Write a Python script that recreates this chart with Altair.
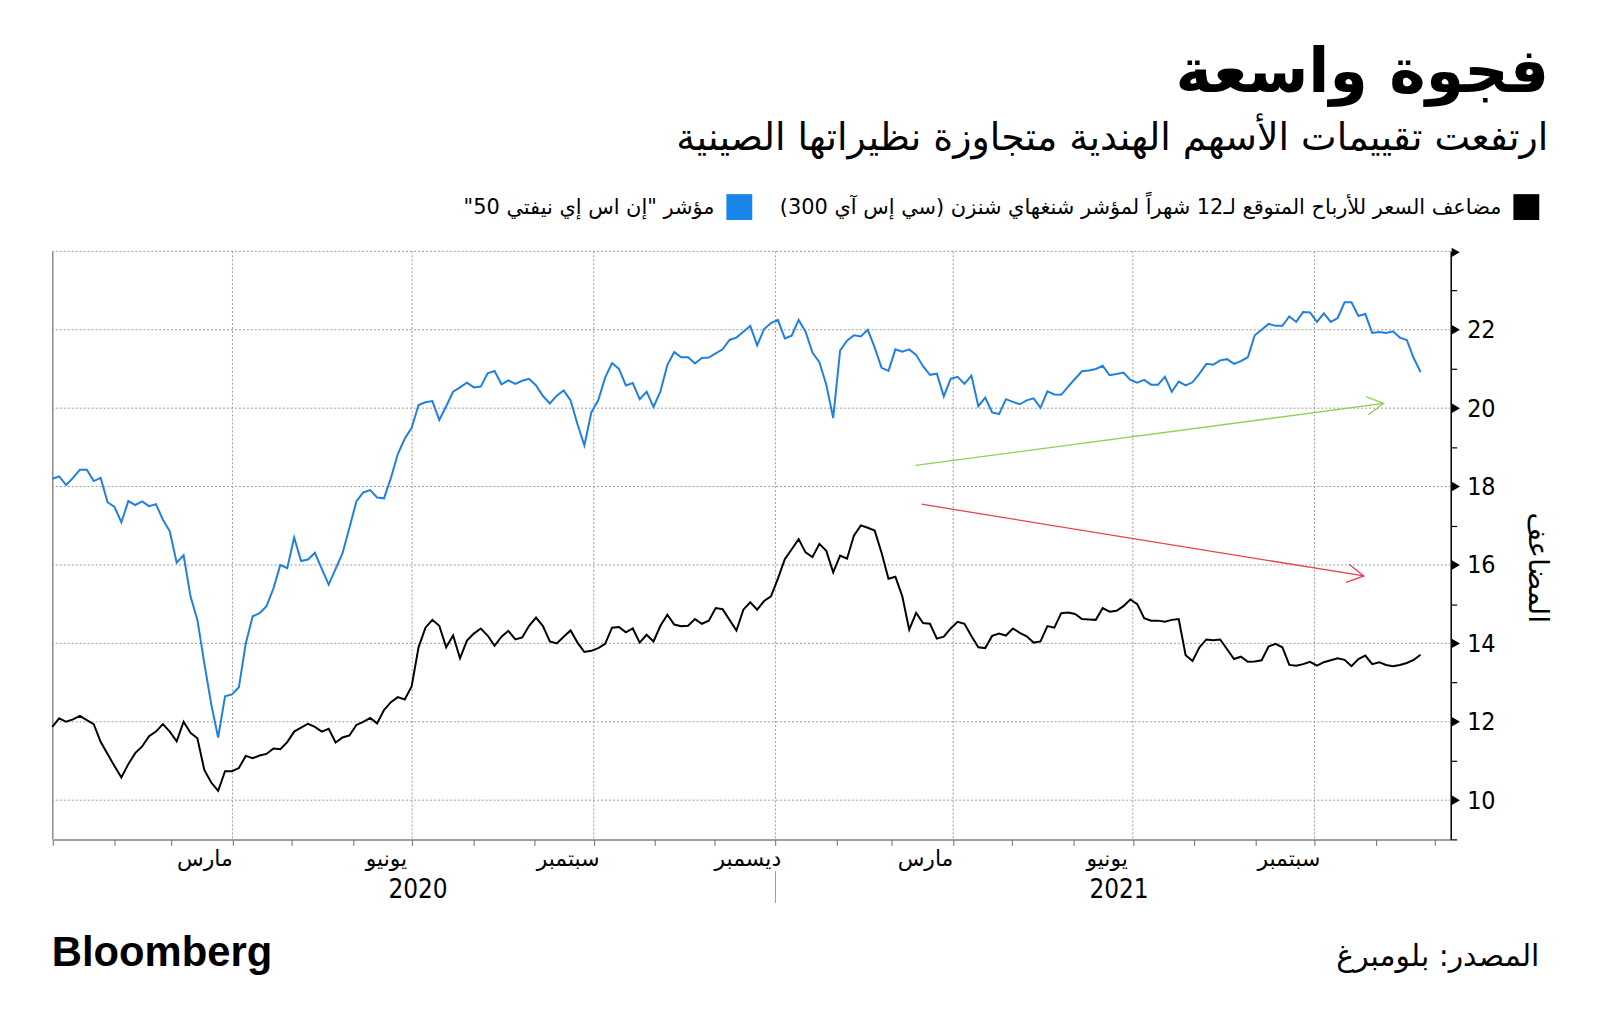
import altair as alt
import pandas as pd

W, H = 1405, 591

# ---------------- data ----------------
START = "2019-12-31T18:00:00"   # first observation
STEP_HOURS = 84                  # two observations per week

NIFTY_PE = [
    18.20, 18.26, 18.04, 18.22, 18.43, 18.43, 18.14, 18.22, 17.60, 17.48,
    17.09, 17.63, 17.53, 17.62, 17.50, 17.55, 17.16, 16.86, 16.06, 16.25,
    15.20, 14.60, 13.49, 12.45, 11.60, 12.65, 12.70, 12.88, 14.00, 14.69,
    14.77, 14.95, 15.40, 16.00, 15.92, 16.70, 16.10, 16.14, 16.31, 15.90,
    15.50, 15.90, 16.30, 16.95, 17.62, 17.85, 17.91, 17.72, 17.70, 18.22,
    18.83, 19.22, 19.50, 20.08, 20.15, 20.18, 19.70, 20.05, 20.42, 20.53,
    20.65, 20.53, 20.55, 20.89, 20.95, 20.61, 20.71, 20.62, 20.70, 20.75,
    20.58, 20.31, 20.12, 20.32, 20.45, 20.20, 19.59, 19.05, 19.89, 20.20,
    20.78, 21.15, 21.00, 20.58, 20.64, 20.23, 20.42, 20.03, 20.43, 21.10,
    21.43, 21.30, 21.30, 21.14, 21.28, 21.29, 21.40, 21.50, 21.74, 21.80,
    21.95, 22.10, 21.60, 22.02, 22.17, 22.25, 21.78, 21.85, 22.25, 21.95,
    21.42, 21.17, 20.60, 19.75, 21.47, 21.72, 21.86, 21.83, 22.00, 21.55,
    21.03, 20.95, 21.50, 21.44, 21.50, 21.36, 21.07, 20.85, 20.88, 20.30,
    20.75, 20.80, 20.62, 20.83, 20.05, 20.27, 19.89, 19.85, 20.23, 20.16,
    20.10, 20.20, 20.25, 20.01, 20.43, 20.35, 20.34, 20.55, 20.75, 20.94,
    20.96, 21.00, 21.08, 20.84, 20.87, 20.91, 20.72, 20.65, 20.72, 20.60,
    20.60, 20.80, 20.42, 20.68, 20.58, 20.66, 20.88, 21.13, 21.11, 21.22,
    21.25, 21.13, 21.20, 21.30, 21.86, 22.00, 22.15, 22.10, 22.10, 22.34,
    22.20, 22.45, 22.44, 22.20, 22.42, 22.20, 22.30, 22.70, 22.70, 22.35,
    22.40, 21.92, 21.94, 21.92, 21.96, 21.80, 21.74, 21.28, 20.92,
]

CSI_PE = [
    11.87, 12.09, 12.00, 12.06, 12.15, 12.04, 11.94, 11.49, 11.18, 10.87,
    10.58, 10.92, 11.20, 11.37, 11.63, 11.75, 11.94, 11.75, 11.50, 12.00,
    11.72, 11.58, 10.77, 10.45, 10.24, 10.74, 10.74, 10.82, 11.13, 11.07,
    11.14, 11.18, 11.32, 11.30, 11.48, 11.75, 11.85, 11.95, 11.87, 11.75,
    11.82, 11.47, 11.60, 11.65, 11.92, 12.00, 12.10, 11.96, 12.30, 12.50,
    12.63, 12.57, 12.90, 13.90, 14.40, 14.60, 14.45, 13.90, 14.20, 13.62,
    14.07, 14.25, 14.38, 14.20, 13.94, 14.17, 14.32, 14.10, 14.15, 14.45,
    14.66, 14.44, 14.05, 14.00, 14.17, 14.33, 14.02, 13.78, 13.81, 13.88,
    13.99, 14.40, 14.42, 14.28, 14.38, 14.02, 14.22, 14.05, 14.45, 14.73,
    14.48, 14.44, 14.45, 14.62, 14.50, 14.58, 14.90, 14.87, 14.60, 14.33,
    14.86, 15.05, 14.86, 15.08, 15.20, 15.65, 16.15, 16.40, 16.66, 16.32,
    16.20, 16.54, 16.36, 15.81, 16.24, 16.16, 16.75, 17.01, 16.95, 16.88,
    16.31, 15.65, 15.70, 15.20, 14.35, 14.78, 14.52, 14.50, 14.12, 14.17,
    14.38, 14.55, 14.50, 14.19, 13.90, 13.88, 14.19, 14.25, 14.20, 14.38,
    14.27, 14.18, 14.02, 14.05, 14.44, 14.40, 14.77, 14.79, 14.75, 14.62,
    14.61, 14.60, 14.90, 14.81, 14.83, 14.95, 15.12, 15.00, 14.64, 14.58,
    14.58, 14.55, 14.60, 14.62, 13.70, 13.55, 13.90, 14.10, 14.08, 14.10,
    13.85, 13.60, 13.66, 13.53, 13.54, 13.57, 13.92, 13.99, 13.90, 13.45,
    13.43, 13.47, 13.53, 13.43, 13.52, 13.57, 13.62, 13.58, 13.42, 13.60,
    13.69, 13.47, 13.52, 13.45, 13.42, 13.45, 13.50, 13.58, 13.71,
]

Y_TICKS = list(range(9, 24))
Y_LABELED = [10, 12, 14, 16, 18, 20, 22]
H_GRID = [10, 12, 14, 16, 18, 20, 22, 24]
V_GRID = ["2020-04-01", "2020-07-01", "2020-10-01", "2021-01-01",
          "2021-04-01", "2021-07-01", "2021-10-01"]
TICK_YEARS = [2020] * 12 + [2021] * 12
TICK_MONTHS = list(range(1, 13)) * 2
MONTH_DATES = ["2020-03-18", "2020-06-18", "2020-09-18", "2020-12-18",
               "2021-03-18", "2021-06-18", "2021-09-18"]
MONTH_NAMES = ["مارس", "يونيو", "سبتمبر", "ديسمبر", "مارس", "يونيو", "سبتمبر"]
YEAR_DATES = ["2020-07-04", "2021-06-24"]
YEAR_NAMES = ["2020", "2021"]
YEAR_SPLIT = ["2021-01-01"]

ARROW_UP_START = ("2021-03-13", 18.54)
ARROW_UP_END = ("2021-11-05", 20.12)
ARROW_DOWN_START = ("2021-03-16", 17.55)
ARROW_DOWN_END = ("2021-10-26", 15.72)

RLM = "\u200f"
TITLE = "فجوة واسعة"
SUBTITLE = "ارتفعت تقييمات الأسهم الهندية متجاوزة نظيراتها الصينية"
LEGEND_CSI = "مضاعف السعر للأرباح المتوقع لـ12 شهراً لمؤشر شنغهاي شنزن (سي إس آي 300)"
LEGEND_NIFTY = "مؤشر \"إن اس إي نيفتي 50\""
Y_TITLE = "المضاعف"
SOURCE = "المصدر: بلومبرغ"
BRAND = "Bloomberg"

BLUE = "#1f80e0"
BLACK = "#000000"
GREEN = "#8fd14f"
RED = "#e8424e"
GRID = "#9a9a9a"
AR_FONT = "DejaVu Sans"
NUM_FONT = "DejaVu Sans Condensed"


def t(d):
    return f"{d}T00:00:00"


# ---------------- tables ----------------
dates = pd.date_range(START, periods=len(NIFTY_PE), freq=f"{STEP_HOURS}h")
series = pd.DataFrame({
    "date": list(dates.strftime("%Y-%m-%dT%H:%M:%S")) * 2,
    "pe": NIFTY_PE + CSI_PE,
    "series": ["nifty"] * len(NIFTY_PE) + ["csi"] * len(CSI_PE),
})

x_scale = alt.Scale(domain=[alt.DateTime(year=2020, month=1, date=1),
                            alt.DateTime(year=2021, month=12, date=9)])
y_scale = alt.Scale(domain=[9, 24], nice=False, zero=False)

X_AXIS = alt.Axis(
    orient="bottom", labels=False, grid=False, title=None,
    values=[alt.DateTime(year=y, month=m, date=1) for y, m in zip(TICK_YEARS, TICK_MONTHS)],
    tickSize=6, tickColor="#808080", tickWidth=1.2,
    domainColor="#808080", domainWidth=1.5)
Y_AXIS = alt.Axis(
    orient="right", values=Y_TICKS, grid=False, title=None,
    labelExpr="datum.value % 2 === 0 ? datum.label : ''",
    tickSize=6, tickColor=BLACK, tickWidth=1.2,
    domainColor=BLACK, domainWidth=1.5,
    labelFont=NUM_FONT, labelFontSize=25, labelColor=BLACK,
    labelPadding=10)


def X(field):
    return alt.X(field, scale=x_scale, axis=X_AXIS)


def Y(field):
    return alt.Y(field, scale=y_scale, axis=Y_AXIS)


# gridlines
hgrid = alt.Chart(pd.DataFrame({"v": H_GRID})).mark_rule(
    color=GRID, strokeDash=[2, 2], strokeWidth=1
).encode(y=Y("v:Q"))

vgrid = alt.Chart(pd.DataFrame({"d": [t(d) for d in V_GRID]})).mark_rule(
    color=GRID, strokeDash=[2, 2], strokeWidth=1
).encode(x=X("d:T"))

left_border = alt.Chart(pd.DataFrame({"a": [0]})).mark_rule(
    color="#8c8c8c", strokeWidth=1.5
).encode(x=alt.value(0), y=alt.value(0), y2=alt.value(H))

# lines
lines = alt.Chart(series).mark_line(strokeWidth=2).encode(
    x=X("date:T"),
    y=Y("pe:Q"),
    color=alt.Color("series:N", scale=alt.Scale(domain=["nifty", "csi"],
                                                range=[BLUE, BLACK]), legend=None),
    detail="series:N",
)

# axis triangles
tri = alt.Chart(pd.DataFrame({"v": Y_LABELED})).mark_point(
    shape="triangle-right", filled=True, color=BLACK, size=100, opacity=1
).encode(x=alt.value(W + 5), y=Y("v:Q"))

top_flag = alt.Chart(pd.DataFrame({"a": [0]})).mark_point(
    shape="triangle-right", filled=True, color=BLACK, size=90, opacity=1
).encode(x=alt.value(W + 5), y=alt.value(1))


# arrows
def arrow(start, end, color, angle):
    df = pd.DataFrame({"x1": [t(start[0])], "y1": [start[1]],
                       "x2": [t(end[0])], "y2": [end[1]]})
    base = alt.Chart(df)
    shaft = base.mark_rule(color=color, strokeWidth=1.3).encode(
        x=X("x1:T"), y=Y("y1:Q"), x2="x2:T", y2="y2:Q")
    head = base.mark_point(shape="M-1,-0.55L0,0L-1,0.55", filled=False,
                           color=color, strokeWidth=1.3, size=1100,
                           angle=angle, opacity=1).encode(
        x=X("x2:T"), y=Y("y2:Q"))
    return [shaft, head]


arrow_up = arrow(ARROW_UP_START, ARROW_UP_END, GREEN, 352.5)
arrow_down = arrow(ARROW_DOWN_START, ARROW_DOWN_END, RED, 9.2)

# x labels
month_lbl = alt.Chart(pd.DataFrame({"d": [t(d) for d in MONTH_DATES],
                                    "m": MONTH_NAMES})).mark_text(
    font=AR_FONT, fontSize=22, color=BLACK, align="center", baseline="alphabetic"
).encode(x=X("d:T"), y=alt.value(H + 27), text="m:N")

year_lbl = alt.Chart(pd.DataFrame({"d": [t(d) for d in YEAR_DATES],
                                   "yname": YEAR_NAMES})).mark_text(
    font=NUM_FONT, fontSize=26, color=BLACK, align="center", baseline="alphabetic"
).encode(x=X("d:T"), y=alt.value(H + 59), text="yname:N")

year_split = alt.Chart(pd.DataFrame({"d": [t(d) for d in YEAR_SPLIT]})).mark_rule(
    color="#9a9a9a", strokeWidth=1
).encode(x=X("d:T"), y=alt.value(H + 32), y2=alt.value(H + 64))


def label(text, x, y, size, align="right", weight="normal", font=AR_FONT,
          angle=0, baseline="alphabetic"):
    return alt.Chart(pd.DataFrame({"s": [text]})).mark_text(
        font=font, fontSize=size, fontWeight=weight, color=BLACK, align=align,
        baseline=baseline, angle=angle
    ).encode(x=alt.value(x), y=alt.value(y), text="s:N")


def square(x, y, color):
    return alt.Chart(pd.DataFrame({"a": [0]})).mark_point(
        shape="square", filled=True, color=color, size=676, opacity=1
    ).encode(x=alt.value(x), y=alt.value(y))


title = label(TITLE, 1504, -160, 62, weight="bold")
subtitle = label(SUBTITLE, 1503, -102, 38)
leg_sq1 = square(1481, -44.5, BLACK)
leg_tx1 = label(RLM + LEGEND_CSI + RLM, 1456, -38, 21)
leg_sq2 = square(690, -44.5, "#1a85e8")
leg_tx2 = label(RLM + LEGEND_NIFTY + RLM, 665, -38, 21)
y_title = label(Y_TITLE, 1492, 318, 28, align="center", angle=90, baseline="middle")
brand = label(BRAND, -1, 718, 42, align="left", weight="bold", font="Liberation Sans")
source = label(RLM + SOURCE + RLM, 1494, 718, 30)

chart = alt.layer(
    hgrid, vgrid, left_border, lines, tri, top_flag, *arrow_up, *arrow_down,
    month_lbl, year_lbl, year_split,
    title, subtitle, leg_sq1, leg_tx1, leg_sq2, leg_tx2, y_title, brand, source,
).properties(
    width=W, height=H,
    padding={"left": 45, "top": 242, "right": 142, "bottom": 192},
    autosize=alt.AutoSizeParams(type="none"),
    background="white",
).configure_view(stroke=None)

chart.save("out.html", embed_options={"renderer": "svg", "actions": False})
